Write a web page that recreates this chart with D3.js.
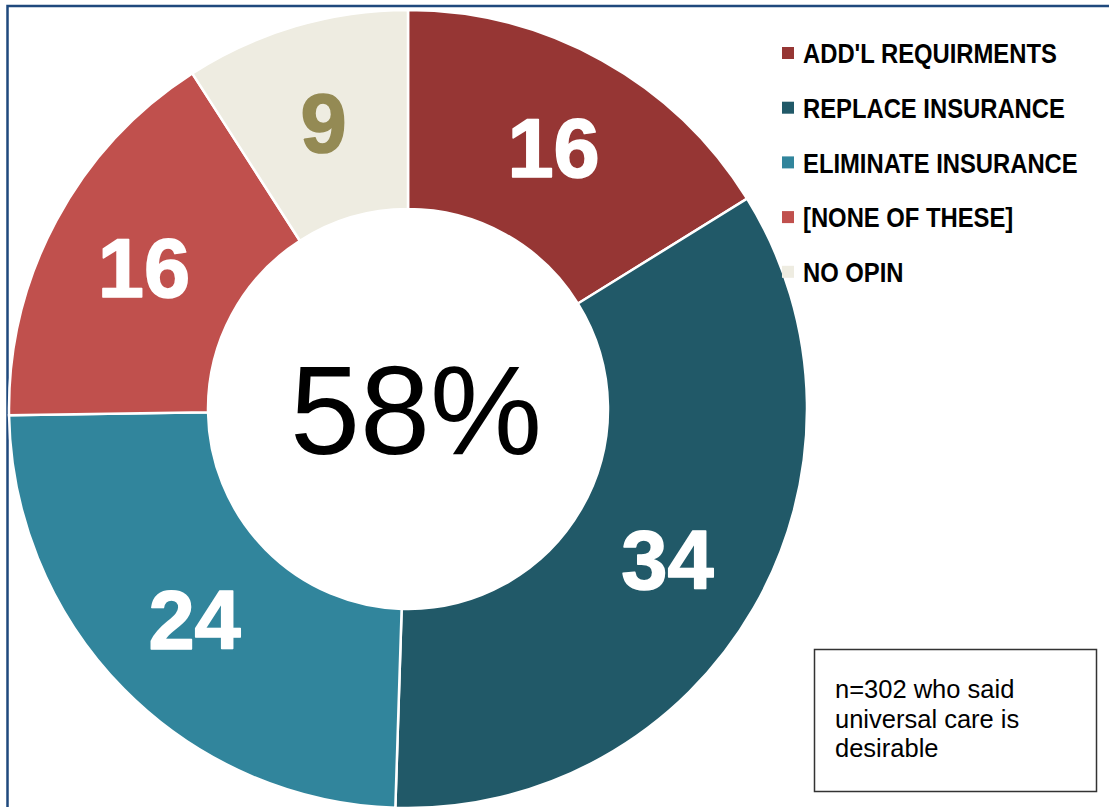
<!DOCTYPE html>
<html>
<head>
<meta charset="utf-8">
<script src="https://cdn.jsdelivr.net/npm/d3@7"></script>
<style>
  html, body { margin: 0; padding: 0; background: #fff; overflow: hidden; }
  svg { display: block; }
</style>
</head>
<body>
<svg id="chart" width="1109" height="807"></svg>
<script>
const categories = ["ADD'L REQUIRMENTS", "REPLACE INSURANCE", "ELIMINATE INSURANCE", "[NONE OF THESE]", "NO OPIN"];
const values = [16, 34, 24, 16, 9];
const colors = ["#963634", "#215968", "#31859C", "#C0504D", "#EEECE1"];
const labelColors = ["#FFFFFF", "#FFFFFF", "#FFFFFF", "#FFFFFF", "#948A54"];
const centerLabel = "58%";
const noteLines = ["n=302 who said", "universal care is", "desirable"];

const W = 1109, H = 807;
const cx = 408, cy = 409, rOuter = 399, rInner = 200;

const svg = d3.select("#chart");

// frame
svg.append("rect")
  .attr("x", 7.5).attr("y", 6)
  .attr("width", 1200).attr("height", 1000)
  .attr("fill", "none")
  .attr("stroke", "#1F497D")
  .attr("stroke-width", 2.5);

const g = svg.append("g").attr("transform", `translate(${cx},${cy})`);

const pie = d3.pie().sort(null).value(d => d)(values);
const arc = d3.arc().innerRadius(rInner).outerRadius(rOuter);

g.selectAll("path.slice")
  .data(pie)
  .join("path")
  .attr("class", "slice")
  .attr("d", arc)
  .attr("fill", (d, i) => colors[i])
  .attr("stroke", "#fff")
  .attr("stroke-width", 2.5);

g.selectAll("text.val")
  .data(pie)
  .join("text")
  .attr("class", "val")
  .attr("transform", d => `translate(${arc.centroid(d)})`)
  .attr("text-anchor", "middle")
  .attr("dy", "0.36em")
  .attr("font-family", "'Liberation Sans', Arial, sans-serif")
  .attr("font-weight", "bold")
  .attr("font-size", 83)
  .attr("fill", (d, i) => labelColors[i])
  .attr("stroke", (d, i) => labelColors[i])
  .attr("stroke-width", 1.6)
  .attr("stroke-linejoin", "round")
  .text(d => d.data);

// center label
g.append("text")
  .attr("x", 8).attr("y", 0)
  .attr("dy", "0.36em")
  .attr("text-anchor", "middle")
  .attr("font-family", "'Liberation Sans', Arial, sans-serif")
  .attr("font-size", 126)
  .attr("fill", "#000")
  .text(centerLabel);

// legend
const legend = svg.append("g");
const legY0 = 53, legStep = 54.7;
const legTexts = [];
categories.forEach((c, i) => {
  const y = legY0 + i * legStep;
  legend.append("rect")
    .attr("x", 782).attr("y", y - 6)
    .attr("width", 12).attr("height", 12)
    .attr("fill", colors[i]);
  const t = legend.append("text")
    .attr("x", 0).attr("y", 0)
    .attr("dy", "0.36em")
    .attr("font-family", "'Liberation Sans', Arial, sans-serif")
    .attr("font-weight", "bold")
    .attr("font-size", 28.5)
    .attr("fill", "#000")
    .text(c);
  legTexts.push({ t, y });
});
// condense horizontally like a narrow face: first label spans ~254px
const w0 = legTexts[0].t.node().getComputedTextLength();
const sx = 254 / w0;
legTexts.forEach(({ t, y }) => t.attr("transform", `translate(803,${y}) scale(${sx},1)`));

// note box
const note = svg.append("g");
note.append("rect")
  .attr("x", 814.5).attr("y", 649.5)
  .attr("width", 282).attr("height", 142)
  .attr("fill", "#fff")
  .attr("stroke", "#333")
  .attr("stroke-width", 1.5);
noteLines.forEach((t, i) => {
  note.append("text")
    .attr("x", 835).attr("y", 698 + i * 29.5)
    .attr("font-family", "'Liberation Sans', Arial, sans-serif")
    .attr("font-size", 25.5)
    .attr("fill", "#000")
    .text(t);
});
</script>
</body>
</html>
